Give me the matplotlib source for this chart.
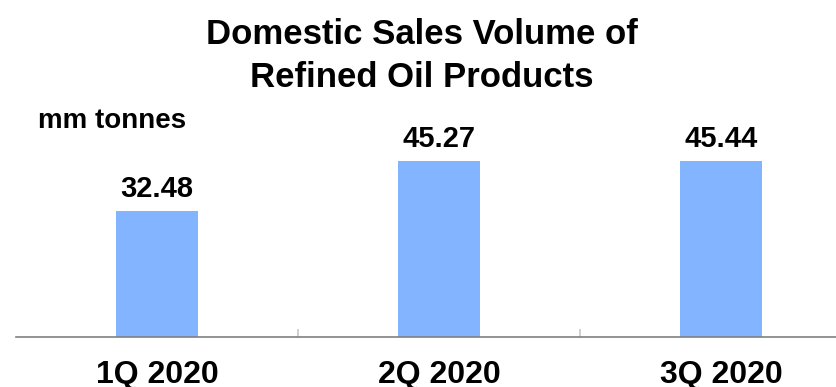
import matplotlib
matplotlib.use("Agg")
import matplotlib.pyplot as plt
import numpy as np

# quarterly domestic sales, refined oil products
quarters = ["1Q 2020", "2Q 2020", "3Q 2020"]
volumes = [32.48, 45.27, 45.44]

plt.rcParams['font.family'] = ['Liberation Sans', 'DejaVu Sans']
plt.rcParams['font.weight'] = 'bold'

fig = plt.figure(figsize=(8.36, 3.87), dpi=100)
# axes runs a bit past the right edge, like the slide it comes from
ax = fig.add_axes([16/836, 50/387, 846/836, 232.8/387])

x = np.arange(len(quarters))
ax.bar(x, volumes, width=0.29, color='#82b4ff', zorder=2)

for xi, v in zip(x, volumes):
    ax.annotate(f"{v:.2f}", (xi, v), xytext=(0, 10), textcoords='offset points',
                ha='center', va='baseline', fontsize=21, fontweight='bold')

ax.set_xlim(-0.5, 2.5)
ax.set_ylim(0, 60)
ax.set_xticks(x)
ax.set_xticklabels(quarters, fontsize=23, fontweight='bold')
ax.tick_params(axis='x', which='major', length=0, pad=16.5)
ax.set_xticks([0.5, 1.5], minor=True)
ax.tick_params(axis='x', which='minor', direction='in', length=6, width=1.2, color='#c8c8c8')
ax.set_yticks([])

for s in ['top', 'left', 'right']:
    ax.spines[s].set_visible(False)
ax.spines['bottom'].set_color('#808080')
ax.spines['bottom'].set_linewidth(1.2)

fig.text(0.505, 0.855, "Domestic Sales Volume of\nRefined Oil Products", ha='center', va='center',
         fontsize=25, fontweight='bold', linespacing=1.4)
fig.text(38/836, 1 - 128/387, "mm tonnes", ha='left', va='baseline', fontsize=20, fontweight='bold')

fig.savefig("out.png", dpi=100)
